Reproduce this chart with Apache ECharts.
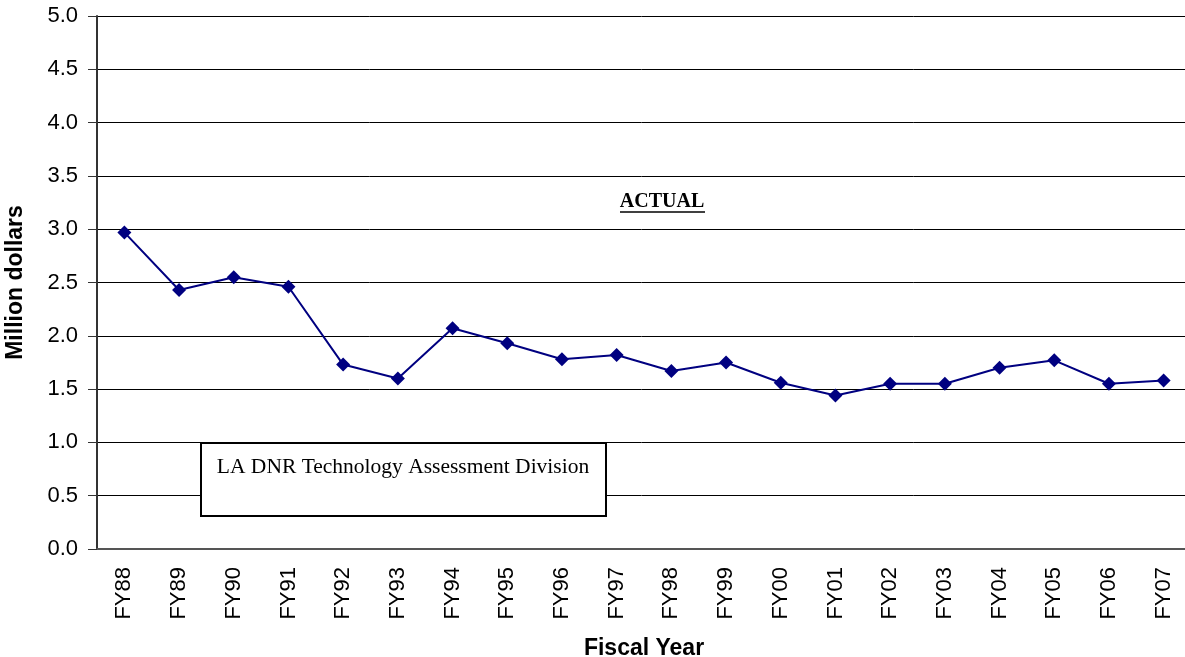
<!DOCTYPE html>
<html>
<head>
<meta charset="utf-8">
<script src="https://cdn.jsdelivr.net/npm/echarts@6/dist/echarts.min.js"></script>
<style>
  html, body { margin: 0; padding: 0; background: #fff; }
  #chart { width: 1185px; height: 657px; }
</style>
</head>
<body>
<div id="chart"></div>
<script>
// fiscal years and values (million dollars)
const years = ["FY88", "FY89", "FY90", "FY91", "FY92", "FY93", "FY94", "FY95", "FY96", "FY97",
  "FY98", "FY99", "FY00", "FY01", "FY02", "FY03", "FY04", "FY05", "FY06", "FY07"]
const actual = [2.97, 2.43, 2.55, 2.46, 1.73, 1.60, 2.07, 1.93, 1.78, 1.82,
  1.67, 1.75, 1.56, 1.44, 1.55, 1.55, 1.70, 1.77, 1.55, 1.58]

const chart = echarts.init(document.getElementById("chart"))

const option = {
  backgroundColor: "#fff",
  animation: false,
  grid: {
    left: 97,
    top: 16,
    width: 1094,
    height: 533,
    containLabel: false,
    outerBoundsMode: "none"
  },
  xAxis: {
    type: "category",
    data: years,
    name: "Fiscal Year",
    nameLocation: "middle",
    nameGap: 88,
    nameTextStyle: {
      fontFamily: "Liberation Sans",
      fontSize: 23,
      fontWeight: "bold",
      color: "#000"
    },
    axisLine: { lineStyle: { color: "#555", width: 2 } },
    axisTick: { length: 7, lineStyle: { color: "#555", width: 1 } },
    axisLabel: {
      rotate: 90,
      margin: 18,
      fontFamily: "Liberation Sans",
      fontSize: 22,
      color: "#000",
      interval: 0
    }
  },
  yAxis: {
    type: "value",
    min: 0,
    max: 5,
    interval: 0.5,
    name: "Million dollars",
    nameLocation: "middle",
    nameGap: 70,
    nameTextStyle: {
      fontFamily: "Liberation Sans",
      fontSize: 23,
      fontWeight: "bold",
      color: "#000"
    },
    axisLine: { show: true, lineStyle: { color: "#333", width: 2 } },
    axisTick: { show: true, length: 9, lineStyle: { color: "#333", width: 1 } },
    axisLabel: {
      margin: 19,
      fontFamily: "Liberation Sans",
      fontSize: 22,
      color: "#000",
      formatter: v => v.toFixed(1)
    },
    splitLine: { lineStyle: { color: "#000", width: 1 } }
  },
  series: [
    {
      name: "ACTUAL",
      type: "line",
      data: actual,
      symbol: "diamond",
      symbolSize: 14,
      itemStyle: { color: "#000080" },
      lineStyle: { color: "#000080", width: 2 }
    }
  ],
  graphic: [
    {
      type: "rect",
      shape: { x: 201, y: 443, width: 405, height: 73 },
      style: { fill: "#fff", stroke: "#000", lineWidth: 2 },
      z: 10
    },
    {
      type: "text",
      x: 403,
      y: 467,
      style: {
        text: "LA DNR Technology Assessment Division",
        fontFamily: "Liberation Serif",
        fontSize: 21.5,
        fill: "#000",
        align: "center",
        verticalAlign: "middle"
      },
      z: 11
    },
    {
      type: "text",
      x: 662,
      y: 202,
      style: {
        text: "ACTUAL",
        fontFamily: "Liberation Serif",
        fontSize: 20,
        fontWeight: "bold",
        fill: "#000",
        align: "center",
        verticalAlign: "middle"
      },
      z: 11
    },
    {
      type: "line",
      shape: { x1: 620, y1: 212, x2: 705, y2: 212 },
      style: { stroke: "#000", lineWidth: 1.5 },
      z: 11
    }
  ]
}

chart.setOption(option)
</script>
</body>
</html>
